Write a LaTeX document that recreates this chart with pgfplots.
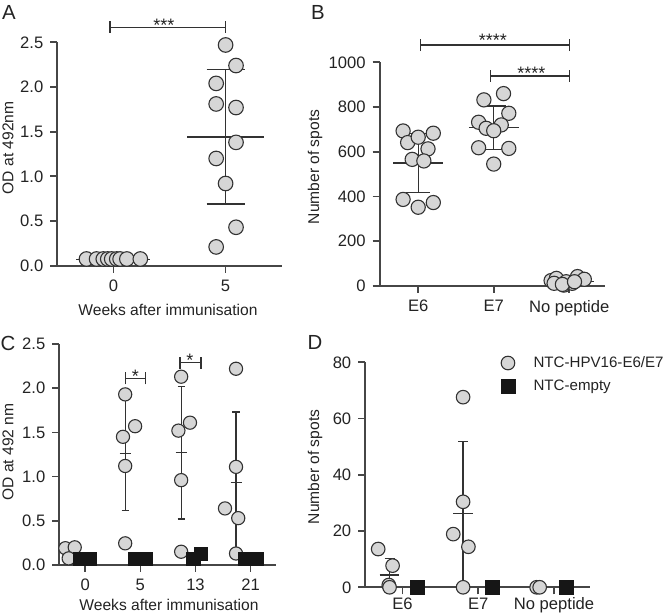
\documentclass[border=0pt]{standalone}
\usepackage{pgfplots}
\pgfplotsset{compat=1.18}
\usepackage{fontspec}
\setmainfont{Liberation Sans}
\definecolor{cfill}{RGB}{214,214,214}
\definecolor{cdraw}{RGB}{50,50,50}
\definecolor{axc}{RGB}{70,70,70}
\definecolor{sq}{RGB}{22,22,22}
\definecolor{txt}{RGB}{35,35,35}
\newcommand\tickf{\fontsize{8.3}{10}\selectfont}
\newcommand\labf{\fontsize{7.8}{9}\selectfont}
\newcommand\starf{\fontsize{9}{10}\selectfont}
\newcommand\panf{\fontsize{10.2}{12}\selectfont}
\pgfplotsset{
  panel/.style={scale only axis, axis x line=bottom, axis y line=left,
    axis line style={-, draw=axc, line width=0.85pt},
    tick style={draw=axc, line width=0.85pt},
    tick align=outside, major tick length=3.5pt,
    clip=false, ymin=0, unbounded coords=jump,
    tick label style={font=\tickf, text=txt},
    /pgf/number format/assume math mode=true},
  circ/.style={only marks, mark=*, mark size=#1,
    mark options={fill=cfill, draw=cdraw, line width=0.55pt}},
  sqr/.style={only marks, mark=square*, mark size=#1,
    mark options={fill=sq, draw=sq, line width=0.3pt}},
  bar/.style={draw=cdraw, line width=0.6pt, no marks, forget plot},
  sig/.style={draw=cdraw, line width=0.6pt, no marks, forget plot},
}
\begin{document}
\begin{tikzpicture}[x=0.5pt,y=-0.5pt]
\useasboundingbox (0,0) rectangle (666,613);

% ---------------- Panel A ----------------
\begin{axis}[panel, at={(28.65pt,-132.85pt)}, anchor=south west,
  width=112.2pt, height=111.7pt,
  xmin=-0.5, xmax=1.5, ymax=2.5,
  xtick={0,1}, xticklabels={0,5},
  ytick={0,0.5,1,1.5,2,2.5},
  yticklabel style={/pgf/number format/.cd, fixed, fixed zerofill, precision=1}]
\addplot[circ=3.65pt, forget plot] coordinates {(-0.24,0.075)(-0.15,0.075)(-0.09,0.075)(-0.05,0.075)(-0.015,0.075)(0.03,0.075)(0.06,0.075)(0.12,0.075)(0.24,0.075)};
\addplot[circ=3.65pt, forget plot] coordinates {(1,2.47)(1.093,2.24)(0.916,2.04)(0.916,1.81)(1.093,1.77)(1.093,1.38)(0.916,1.20)(1,0.92)(1.093,0.43)(0.916,0.21)};
\addplot[bar] coordinates {(-0.33,0.07)(0.33,0.07)};
\addplot[bar] coordinates {(0.66,1.44)(1.34,1.44) (1,nan) (1,0.69)(1,2.20) (1,nan) (0.83,2.20)(1.17,2.20) (1,nan) (0.83,0.69)(1.17,0.69)};
\addplot[sig] coordinates {(-0.03,2.605)(-0.03,2.735) (0,nan) (-0.03,2.67)(1,2.67) (0,nan) (1,2.605)(1,2.735)};
\node[font=\starf, text=txt, anchor=base, yshift=-2.0pt] at (axis cs:0.45,2.67) {***};
\end{axis}

% ---------------- Panel B ----------------
\begin{axis}[panel, at={(189.85pt,-143pt)}, anchor=south west,
  width=112.5pt, height=111.85pt,
  xmin=-0.51, xmax=2.47, ymax=1000,
  xtick={0,1,2}, xticklabels={E6,E7,No peptide},
  ytick={0,200,400,600,800,1000},
  yticklabel style={/pgf/number format/1000 sep={}}]
\addplot[circ=3.55pt, forget plot] coordinates {(-0.2,693)(0.2,683)(-0.14,641)(0,665)(0.13,613)(-0.08,566)(0.075,559)(-0.2,387)(0.2,373)(0,352)};
\addplot[circ=3.55pt, forget plot] coordinates {(1.13,860)(0.87,832)(1.2,772)(0.8,732)(1.1,720)(0.9,705)(1,694)(0.8,618)(1.2,615)(1,545)};
\addplot[circ=3.55pt, forget plot] coordinates {(1.76,24)(1.83,34)(1.8,12)(1.93,4)(2.04,12)(2.11,42)(2.2,30)(1.96,19)(1.91,7)(2.07,19)};
\addplot[bar] coordinates {(-0.33,550)(0.33,550) (0,nan) (0,419)(0,683) (0,nan) (-0.16,683)(0.16,683) (0,nan) (-0.16,419)(0.16,419)};
\addplot[bar] coordinates {(0.67,709)(1.33,709) (1,nan) (1,611)(1,805) (1,nan) (0.84,805)(1.16,805) (1,nan) (0.84,611)(1.16,611)};
\addplot[bar] coordinates {(1.67,21)(2.33,21) (2,nan) (2,8)(2,34) (2,nan) (1.84,34)(2.16,34) (2,nan) (1.84,8)(2.16,8)};
\addplot[sig] coordinates {(0.035,1050)(0.035,1104) (0,nan) (0.035,1077)(2,1077) (0,nan) (2,1050)(2,1104)};
\addplot[sig] coordinates {(0.96,912)(0.96,966) (0,nan) (0.96,939)(2,939) (0,nan) (2,912)(2,966)};
\node[font=\starf, text=txt, anchor=base, yshift=-0.8pt] at (axis cs:0.99,1077) {****};
\node[font=\starf, text=txt, anchor=base, yshift=-2.0pt] at (axis cs:1.5,939) {****};
\end{axis}

% ---------------- Panel C ----------------
\begin{axis}[panel, at={(29.65pt,-282.5pt)}, anchor=south west,
  width=108.35pt, height=110.5pt,
  xmin=-0.47, xmax=3.46, ymax=2.5,
  xtick={0,1,2,3}, xticklabels={0,5,13,21},
  ytick={0,0.5,1,1.5,2,2.5},
  yticklabel style={/pgf/number format/.cd, fixed, fixed zerofill, precision=1}]
\addplot[bar] coordinates {(-0.37,0.14)(-0.17,0.14) (0,nan) (-0.27,0.08)(-0.27,0.20) (0,nan) (-0.335,0.20)(-0.205,0.20)};
\addplot[bar] coordinates {(0.625,1.26)(0.825,1.26) (0,nan) (0.725,0.62)(0.725,1.90) (0,nan) (0.66,1.90)(0.79,1.90) (0,nan) (0.66,0.62)(0.79,0.62)};
\addplot[bar] coordinates {(1.64,1.27)(1.84,1.27) (0,nan) (1.74,0.52)(1.74,2.02) (0,nan) (1.675,2.02)(1.805,2.02) (0,nan) (1.675,0.52)(1.805,0.52)};
\addplot[bar] coordinates {(2.635,0.93)(2.835,0.93) (0,nan) (2.735,0.12)(2.735,1.73) (0,nan) (2.67,1.73)(2.80,1.73)};
\addplot[circ=3.3pt, forget plot] coordinates {(-0.36,0.19)(-0.19,0.20)(-0.30,0.075)
  (0.725,1.93)(0.905,1.57)(0.685,1.45)(0.725,1.12)(0.725,0.245)
  (1.74,2.13)(1.90,1.61)(1.69,1.52)(1.74,0.96)(1.74,0.15)
  (2.735,2.22)(2.735,1.11)(2.535,0.64)(2.775,0.53)(2.735,0.13)};
\addplot[sqr=3.3pt, forget plot] coordinates {(-0.09,0.074)(0.09,0.074)(0.91,0.074)(1.09,0.074)(1.96,0.074)(2.09,0.125)(2.9,0.074)(3.11,0.074)};
\addplot[sig] coordinates {(0.725,2.042)(0.725,2.178) (0,nan) (0.725,2.11)(1.09,2.11) (0,nan) (1.09,2.042)(1.09,2.178)};
\addplot[sig] coordinates {(1.72,2.222)(1.72,2.358) (0,nan) (1.72,2.29)(2.10,2.29) (0,nan) (2.10,2.222)(2.10,2.358)};
\node[font=\starf, text=txt, anchor=base, yshift=-2.0pt] at (axis cs:0.91,2.11) {*};
\node[font=\starf, text=txt, anchor=base, yshift=-2.0pt] at (axis cs:1.90,2.29) {*};
\end{axis}

% ---------------- Panel D ----------------
\begin{axis}[panel, at={(182.65pt,-293.65pt)}, anchor=south west,
  width=112.2pt, height=112.5pt,
  xmin=-0.49, xmax=2.47, ymax=80,
  xtick={0,1,2}, xticklabels={E6,E7,No peptide},
  xticklabel style={yshift=1.8pt},
  ytick={0,20,40,60,80},
  legend cell align=left,
  legend image code/.code={\draw[#1] plot coordinates {(0pt,0pt)};},
  legend style={at={(axis cs:1.40,79.6)}, anchor=north west, xshift=-3.8pt, yshift=3.8pt,
    draw=none, fill=none, inner sep=0pt, outer sep=0pt, row sep=4.6pt, column sep=9.3pt,
    font=\fontsize{7.55}{9}\selectfont,
    nodes={inner sep=0pt, text height=5.7pt, text depth=1.5pt, text=txt}}]
\addplot[bar] coordinates {(-0.30,4.4)(-0.04,4.4) (0,nan) (-0.17,0)(-0.17,10.3) (0,nan) (-0.236,10.3)(-0.104,10.3)};
\addplot[bar] coordinates {(0.67,26.3)(0.93,26.3) (0,nan) (0.8,0.9)(0.8,51.8) (0,nan) (0.734,51.8)(0.866,51.8)};
\addplot[circ=3.4pt] coordinates {(-0.32,13.6)(-0.13,7.7)(-0.18,0.8)(-0.17,0)
  (0.8,67.6)(0.8,30.4)(0.67,18.9)(0.87,14.4)(0.8,0)
  (1.77,0)(1.81,0)};
\addlegendentry{NTC-HPV16-E6/E7}
\addplot[sqr=3.5pt] coordinates {(0.19,0)(1.18,0)(2.16,0)};
\addlegendentry{NTC-empty}
\end{axis}

% ---------------- Labels ----------------
\node[font=\labf, text=txt, rotate=90] at (8,148) {OD at 492nm};
\node[font=\labf, text=txt] at (168,310) {Weeks after immunisation};
\node[font=\labf, text=txt, rotate=90] at (315,167) {Number of spots};
\node[font=\labf, text=txt, rotate=90] at (8,452) {OD at 492 nm};
\node[font=\labf, text=txt] at (169,605) {Weeks after immunisation};
\node[font=\labf, text=txt, rotate=90] at (315,467) {Number of spots};
\node[font=\panf, text=txt] at (9,12) {A};
\node[font=\panf, text=txt] at (318,12) {B};
\node[font=\panf, text=txt] at (8,343) {C};
\node[font=\panf, text=txt] at (315,342) {D};
\end{tikzpicture}
\end{document}
